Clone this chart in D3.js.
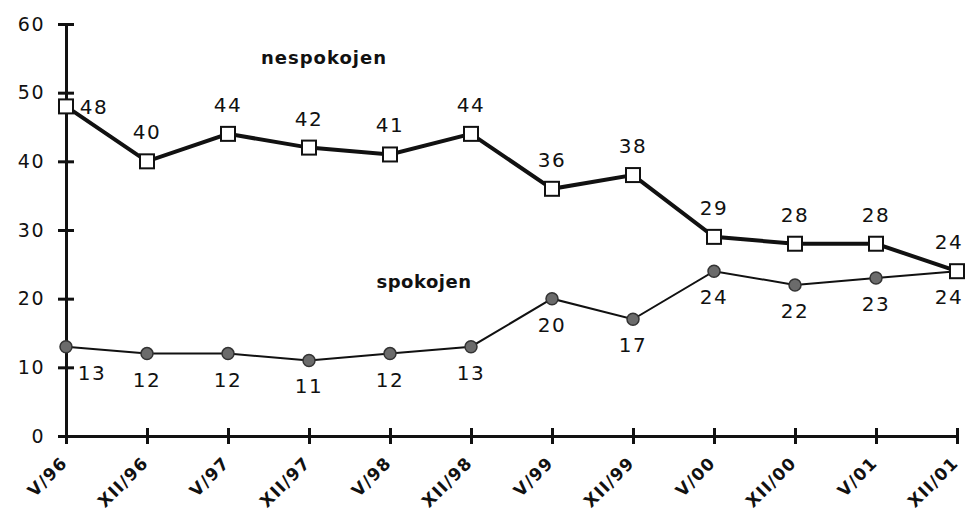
<!DOCTYPE html>
<html>
<head>
<meta charset="utf-8">
<script src="https://cdn.jsdelivr.net/npm/d3@7"></script>
<style>
  body { margin: 0; background: #fff; }
  text { font-family: "DejaVu Sans", Verdana, sans-serif; fill: #111; }
</style>
</head>
<body>
<div id="chart"></div>
<script>
// periods and values
var periods = ['V/96', 'XII/96', 'V/97', 'XII/97', 'V/98', 'XII/98', 'V/99', 'XII/99', 'V/00', 'XII/00', 'V/01', 'XII/01'];
var nespokojen = [48, 40, 44, 42, 41, 44, 36, 38, 29, 28, 28, 24];
var spokojen = [13, 12, 12, 11, 12, 13, 20, 17, 24, 22, 23, 24];
var yTicks = [0, 10, 20, 30, 40, 50, 60];

var width = 968, height = 520;
var margin = { top: 24, right: 11, bottom: 84, left: 66 };
var w = width - margin.left - margin.right,
    h = height - margin.top - margin.bottom;

var svg = d3.select('#chart')
    .append('svg')
    .attr('width', width)
    .attr('height', height);

var g = svg.append('g')
    .attr('transform', 'translate(' + margin.left + ',' + margin.top + ')');

var x = d3.scalePoint()
    .domain(periods)
    .range([0, w]);

var y = d3.scaleLinear()
    .domain([0, 60])
    .range([h, 0]);

var last = periods.length - 1;

// y axis
var yAxis = g.append('g')
    .call(d3.axisLeft(y).tickValues(yTicks).tickSize(0).tickPadding(21));
yAxis.select('.domain').attr('stroke', '#111').attr('stroke-width', 3);
yAxis.selectAll('text')
    .style('font-size', '19px')
    .style('letter-spacing', '1.5px')
    .style('font-family', '"DejaVu Sans", Verdana, sans-serif')
    .attr('fill', '#111');
yAxis.selectAll('.tick').append('line')
    .attr('x1', -8).attr('x2', 8)
    .attr('stroke', '#111').attr('stroke-width', 3);

// x axis
var xAxis = g.append('g')
    .attr('transform', 'translate(0,' + h + ')')
    .call(d3.axisBottom(x).tickSize(0).tickFormat(''));
xAxis.select('.domain').attr('stroke', '#111').attr('stroke-width', 3);
xAxis.selectAll('.tick').append('line')
    .attr('y1', -8).attr('y2', 8)
    .attr('stroke', '#111').attr('stroke-width', 3);
xAxis.selectAll('.tick').append('text')
    .attr('text-anchor', 'end')
    .attr('transform', 'translate(2,28) rotate(-45)')
    .style('font-size', '17px')
    .style('font-weight', 'bold')
    .style('letter-spacing', '1.2px')
    .style('font-family', '"DejaVu Sans", Verdana, sans-serif')
    .text(function(d) { return d; });

var line = d3.line()
    .x(function(d, i) { return x(periods[i]); })
    .y(function(d) { return y(d); });

// spokojen line
g.append('path')
    .datum(spokojen)
    .attr('fill', 'none')
    .attr('stroke', '#111')
    .attr('stroke-width', 2)
    .attr('d', line);

// nespokojen line
g.append('path')
    .datum(nespokojen)
    .attr('fill', 'none')
    .attr('stroke', '#111')
    .attr('stroke-width', 4)
    .attr('d', line);

g.selectAll('.dot')
    .data(spokojen)
    .enter()
    .append('circle')
    .attr('cx', function(d, i) { return x(periods[i]); })
    .attr('cy', function(d) { return y(d); })
    .attr('r', 6)
    .attr('fill', '#6b6b6b')
    .attr('stroke', '#333')
    .attr('stroke-width', 1.5);

g.selectAll('.sq')
    .data(nespokojen)
    .enter()
    .append('rect')
    .attr('x', function(d, i) { return x(periods[i]) - 7; })
    .attr('y', function(d) { return y(d) - 7; })
    .attr('width', 14)
    .attr('height', 14)
    .attr('fill', '#fff')
    .attr('stroke', '#111')
    .attr('stroke-width', 2);

// value labels
g.selectAll('.lab-n')
    .data(nespokojen)
    .enter()
    .append('text')
    .attr('x', function(d, i) { return x(periods[i]) + (i == 0 ? 28 : (i == last ? -8 : 0)); })
    .attr('y', function(d, i) { return y(d) + (i == 0 ? 8 : -22); })
    .attr('text-anchor', 'middle')
    .style('font-size', '20px')
    .style('letter-spacing', '1.5px')
    .text(function(d) { return d; });

g.selectAll('.lab-s')
    .data(spokojen)
    .enter()
    .append('text')
    .attr('x', function(d, i) { return x(periods[i]) + (i == 0 ? 26 : (i == last ? -8 : 0)); })
    .attr('y', function(d, i) { return y(d) + 33; })
    .attr('text-anchor', 'middle')
    .style('font-size', '20px')
    .style('letter-spacing', '1.5px')
    .text(function(d) { return d; });

// series names
g.append('text')
    .attr('x', x('XII/97') + 15)
    .attr('y', y(55) + 6)
    .attr('text-anchor', 'middle')
    .style('font-size', '18px')
    .style('font-weight', 'bold')
    .style('letter-spacing', '1px')
    .text('nespokojen');

g.append('text')
    .attr('x', x('V/98') + 34)
    .attr('y', y(22.5) + 6)
    .attr('text-anchor', 'middle')
    .style('font-size', '18px')
    .style('font-weight', 'bold')
    .style('letter-spacing', '0.5px')
    .text('spokojen');
</script>
</body>
</html>
